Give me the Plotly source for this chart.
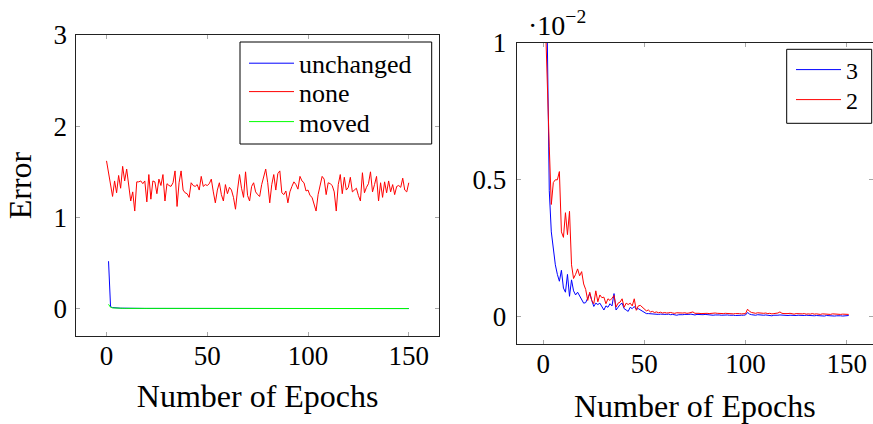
import plotly.graph_objects as go

# ---------------- data (left panel: Error vs epochs) ----------------
none_err = [
    1.62, 1.50, 1.38, 1.23, 1.40, 1.27, 1.46, 1.32, 1.56, 1.40,
    1.53, 1.37, 1.18, 1.28, 1.07, 1.39, 1.39, 1.40, 1.37, 1.40,
    1.17, 1.47, 1.20, 1.40, 1.39, 1.26, 1.42, 1.35, 1.47, 1.18,
    1.37, 1.35, 1.34, 1.38, 1.51, 1.12, 1.38, 1.51, 1.30, 1.27,
    1.26, 1.22, 1.38, 1.35, 1.34, 1.36, 1.30, 1.45, 1.34, 1.36,
    1.35, 1.37, 1.42, 1.28, 1.16, 1.30, 1.38, 1.25, 1.18, 1.36,
    1.26, 1.33, 1.30, 1.22, 1.09, 1.30, 1.47, 1.32, 1.22, 1.50,
    1.24, 1.18, 1.34, 1.38, 1.28, 1.25, 1.23, 1.36, 1.44, 1.53,
    1.38, 1.16, 1.36, 1.47, 1.30, 1.48, 1.51, 1.27, 1.25, 1.29,
    1.16, 1.28, 1.34, 1.39, 1.36, 1.31, 1.45, 1.40, 1.38, 1.29,
    1.30, 1.24, 1.22, 1.15, 1.07, 1.25, 1.36, 1.45, 1.42, 1.25,
    1.38, 1.37, 1.35, 1.28, 1.07, 1.36, 1.47, 1.26, 1.44, 1.30,
    1.33, 1.44, 1.28, 1.30, 1.32, 1.24, 1.18, 1.49, 1.27, 1.33,
    1.37, 1.50, 1.28, 1.36, 1.45, 1.18, 1.38, 1.22, 1.39, 1.27,
    1.40, 1.28, 1.36, 1.25, 1.34, 1.35, 1.33, 1.43, 1.30, 1.28,
    1.38,
]
unchanged_err = [
    0.52, 0.020, 0.012, 0.009, 0.007, 0.006, 0.005, 0.005, 0.004, 0.004,
    0.004, 0.003, 0.003, 0.003, 0.003, 0.003, 0.002, 0.002, 0.002, 0.002,
    0.002, 0.002, 0.002, 0.002, 0.002, 0.002, 0.002, 0.002, 0.002, 0.002,
    0.002, 0.002, 0.002, 0.002, 0.002, 0.002, 0.002, 0.002, 0.002, 0.002,
    0.001, 0.001, 0.001, 0.001, 0.001, 0.001, 0.001, 0.001, 0.001, 0.001,
    0.001, 0.001, 0.001, 0.001, 0.001, 0.001, 0.001, 0.001, 0.001, 0.001,
    0.001, 0.001, 0.001, 0.001, 0.001, 0.001, 0.001, 0.001, 0.001, 0.001,
    0.001, 0.001, 0.001, 0.001, 0.001, 0.001, 0.001, 0.001, 0.001, 0.001,
    0.001, 0.001, 0.001, 0.001, 0.001, 0.001, 0.001, 0.001, 0.001, 0.001,
    0.001, 0.001, 0.001, 0.001, 0.001, 0.001, 0.001, 0.001, 0.001, 0.001,
    0.001, 0.001, 0.001, 0.001, 0.001, 0.001, 0.001, 0.001, 0.001, 0.001,
    0.001, 0.001, 0.001, 0.001, 0.001, 0.001, 0.001, 0.001, 0.001, 0.001,
    0.001, 0.001, 0.001, 0.001, 0.001, 0.001, 0.001, 0.001, 0.001, 0.001,
    0.001, 0.001, 0.001, 0.001, 0.001, 0.001, 0.001, 0.001, 0.001, 0.001,
    0.001, 0.001, 0.001, 0.001, 0.001, 0.001, 0.001, 0.001, 0.001, 0.001,
]
moved_err = [
    0.047, 0.015, 0.008, 0.006, 0.005, 0.004, 0.004, 0.003, 0.003, 0.003,
    0.003, 0.002, 0.002, 0.002, 0.002, 0.002, 0.002, 0.002, 0.002, 0.002,
    0.002, 0.002, 0.002, 0.002, 0.002, 0.001, 0.001, 0.001, 0.001, 0.001,
    0.001, 0.001, 0.001, 0.001, 0.001, 0.001, 0.001, 0.001, 0.001, 0.001,
    0.001, 0.001, 0.001, 0.001, 0.001, 0.001, 0.001, 0.001, 0.001, 0.001,
    0.001, 0.001, 0.001, 0.001, 0.001, 0.001, 0.001, 0.001, 0.001, 0.001,
    0.001, 0.001, 0.001, 0.001, 0.001, 0.001, 0.001, 0.001, 0.001, 0.001,
    0.001, 0.001, 0.001, 0.001, 0.001, 0.001, 0.001, 0.001, 0.001, 0.001,
    0.001, 0.001, 0.001, 0.001, 0.001, 0.001, 0.001, 0.001, 0.001, 0.001,
    0.001, 0.001, 0.001, 0.001, 0.001, 0.001, 0.001, 0.001, 0.001, 0.001,
    0.001, 0.001, 0.001, 0.001, 0.001, 0.001, 0.001, 0.001, 0.001, 0.001,
    0.001, 0.001, 0.001, 0.001, 0.001, 0.001, 0.001, 0.001, 0.001, 0.001,
    0.001, 0.001, 0.001, 0.001, 0.001, 0.001, 0.001, 0.001, 0.001, 0.001,
    0.001, 0.001, 0.001, 0.001, 0.001, 0.001, 0.001, 0.001, 0.001, 0.001,
    0.001, 0.001, 0.001, 0.001, 0.001, 0.001, 0.001, 0.001, 0.001, 0.001,
]
epochs_none = list(range(0, len(none_err)))
epochs_unchanged = list(range(1, len(unchanged_err) + 1))
epochs_moved = list(range(1, len(moved_err) + 1))

# ---------------- data (right panel, values in units of 1e-2) ----------------
err3_e2 = [
    1.60, 0.98, 0.46, 0.31, 0.24, 0.19, 0.155, 0.13, 0.17, 0.105,
    0.09, 0.155, 0.075, 0.135, 0.095, 0.08, 0.09, 0.075, 0.06, 0.05,
    0.052, 0.07, 0.085, 0.06, 0.038, 0.05, 0.045, 0.05, 0.035, 0.025,
    0.04, 0.035, 0.048, 0.04, 0.085, 0.025, 0.035, 0.045, 0.05, 0.03,
    0.025, 0.02, 0.035, 0.03, 0.038, 0.028, 0.03, 0.025, 0.02, 0.015,
    0.012, 0.012, 0.011, 0.010, 0.011, 0.010, 0.009, 0.010, 0.009, 0.010,
    0.009, 0.010, 0.008, 0.009, 0.007, 0.006, 0.008, 0.007, 0.008, 0.009,
    0.008, 0.009, 0.010, 0.008, 0.007, 0.009, 0.008, 0.007, 0.008, 0.009,
    0.008, 0.007, 0.008, 0.006, 0.007, 0.008, 0.007, 0.006, 0.007, 0.008,
    0.007, 0.006, 0.007, 0.006, 0.005, 0.006, 0.007, 0.006, 0.006, 0.007,
    0.016, 0.010, 0.008, 0.007, 0.006, 0.008, 0.007, 0.005, 0.006, 0.007,
    0.006, 0.005, 0.004, 0.006, 0.005, 0.006, 0.007, 0.006, 0.005, 0.006,
    0.005, 0.006, 0.005, 0.004, 0.005, 0.006, 0.005, 0.004, 0.005, 0.006,
    0.005, 0.004, 0.005, 0.004, 0.005, 0.004, 0.005, 0.004, 0.003, 0.005,
    0.004, 0.005, 0.004, 0.003, 0.004, 0.005, 0.004, 0.003, 0.004, 0.004,
    0.005,
]
err2_e2 = [
    1.10, 0.82, 0.62, 0.41, 0.49, 0.50, 0.50, 0.53, 0.31, 0.29,
    0.38, 0.30, 0.385, 0.19, 0.14, 0.155, 0.175, 0.15, 0.165, 0.12,
    0.10, 0.06, 0.09, 0.06, 0.048, 0.095, 0.055, 0.08, 0.07, 0.072,
    0.048, 0.066, 0.06, 0.068, 0.078, 0.036, 0.05, 0.054, 0.066, 0.035,
    0.05, 0.045, 0.05, 0.04, 0.066, 0.024, 0.04, 0.042, 0.035, 0.03,
    0.022, 0.025, 0.018, 0.02, 0.016, 0.018, 0.015, 0.017, 0.014, 0.016,
    0.014, 0.015, 0.016, 0.014, 0.013, 0.015, 0.014, 0.013, 0.014, 0.015,
    0.013, 0.014, 0.015, 0.018, 0.013, 0.014, 0.013, 0.012, 0.013, 0.014,
    0.013, 0.012, 0.013, 0.012, 0.014, 0.013, 0.012, 0.013, 0.012, 0.013,
    0.012, 0.013, 0.012, 0.011, 0.012, 0.013, 0.012, 0.011, 0.012, 0.012,
    0.028, 0.020, 0.016, 0.014, 0.013, 0.015, 0.014, 0.012, 0.013, 0.014,
    0.012, 0.013, 0.011, 0.012, 0.013, 0.014, 0.018, 0.013, 0.012, 0.011,
    0.012, 0.013, 0.011, 0.010, 0.012, 0.011, 0.010, 0.011, 0.012, 0.010,
    0.011, 0.010, 0.012, 0.010, 0.011, 0.010, 0.009, 0.011, 0.010, 0.009,
    0.010, 0.009, 0.011, 0.010, 0.009, 0.010, 0.009, 0.010, 0.009, 0.008,
    0.009,
]
epochs_right = list(range(1, len(err3_e2) + 1))

x_ticks = [0, 50, 100, 150]
left_y_ticks = [0, 1, 2, 3]
right_y_ticks = [0, 0.5, 1]
right_y_ticktext = ["0", "0.5", "1"]

# ---------------- figure ----------------
W, H = 873, 424
FONT = "Liberation Serif"
BLUE, RED, GREEN = "#0000ff", "#ff0000", "#00ff00"

fig = go.Figure()
fig.add_trace(go.Scatter(x=epochs_unchanged, y=unchanged_err, mode="lines", name="unchanged",
                         line=dict(color=BLUE, width=1), xaxis="x", yaxis="y", legend="legend"))
fig.add_trace(go.Scatter(x=epochs_none, y=none_err, mode="lines", name="none",
                         line=dict(color=RED, width=1), xaxis="x", yaxis="y", legend="legend2"))
fig.add_trace(go.Scatter(x=epochs_moved, y=moved_err, mode="lines", name="moved",
                         line=dict(color=GREEN, width=1), xaxis="x", yaxis="y", legend="legend3"))
fig.add_trace(go.Scatter(x=epochs_right, y=err3_e2, mode="lines", name="3",
                         line=dict(color=BLUE, width=1), xaxis="x2", yaxis="y2", legend="legend4"))
fig.add_trace(go.Scatter(x=epochs_right, y=err2_e2, mode="lines", name="2",
                         line=dict(color=RED, width=1), xaxis="x2", yaxis="y2", legend="legend5"))

axis_common = dict(showgrid=False, zeroline=False, showline=True, linecolor="#222222", linewidth=1,
                   mirror="allticks", ticks="inside", ticklen=4, tickcolor="#a8a8a8", tickwidth=1,
                   automargin=False,
                   tickfont=dict(family=FONT, size=27, color="black"))

def px_x(p):
    return p / W

def px_y(p):
    return 1 - p / H

fig.update_layout(
    width=W, height=H,
    margin=dict(l=0, r=0, t=0, b=0, autoexpand=False),
    paper_bgcolor="white", plot_bgcolor="white",
    font=dict(family=FONT, color="black"),
    showlegend=True,
    xaxis=dict(axis_common, domain=[px_x(76.3), px_x(439)], range=[-15, 165], tickvals=x_ticks,
               anchor="y", ticklabelstandoff=-4,
               title=dict(text="Number of Epochs", font=dict(size=32), standoff=14)),
    yaxis=dict(axis_common, domain=[px_y(336), px_y(35)], range=[-0.3, 3], tickvals=left_y_ticks,
               anchor="x", ticklabelstandoff=3,
               title=dict(text="Error", font=dict(size=32), standoff=12)),
    xaxis2=dict(axis_common, domain=[px_x(516.7), 1.0], range=[-13.1, 163], tickvals=x_ticks,
                anchor="y2", ticklabelstandoff=-5,
                title=dict(text="Number of Epochs", font=dict(size=32), standoff=16)),
    yaxis2=dict(axis_common, domain=[px_y(344.3), px_y(42.7)], range=[-0.1, 1],
                tickvals=right_y_ticks, ticktext=right_y_ticktext, anchor="x2", ticklabelstandoff=4),
)

leg_common = dict(xanchor="left", yanchor="middle", bgcolor="rgba(0,0,0,0)", borderwidth=0,
                  itemwidth=45, itemclick=False, itemdoubleclick=False, visible=True)
fig.update_layout(
    legend=dict(leg_common, x=px_x(244), y=px_y(63.3), font=dict(family=FONT, size=26)),
    legend2=dict(leg_common, x=px_x(244), y=px_y(91.7), font=dict(family=FONT, size=26)),
    legend3=dict(leg_common, x=px_x(244), y=px_y(121.7), font=dict(family=FONT, size=26)),
    legend4=dict(leg_common, x=px_x(791), y=px_y(70), font=dict(family=FONT, size=24)),
    legend5=dict(leg_common, x=px_x(791), y=px_y(100), font=dict(family=FONT, size=24)),
)

# legend frames
fig.add_shape(type="rect", xref="paper", yref="paper", x0=px_x(240), x1=px_x(431.7),
              y0=px_y(144), y1=px_y(42), line=dict(color="black", width=1), fillcolor="white", layer="below")
fig.add_shape(type="rect", xref="paper", yref="paper", x0=px_x(786.7), x1=px_x(871.7),
              y0=px_y(123.3), y1=px_y(49.3), line=dict(color="black", width=1), fillcolor="white", layer="below")

# scale factor label of the right panel
fig.add_annotation(xref="paper", yref="paper", x=px_x(526), y=px_y(24), xanchor="left", yanchor="middle",
                   text="·10<sup>−2</sup>", showarrow=False, font=dict(family=FONT, size=28))

fig.write_html("out.html", config={"displayModeBar": False},
               post_script="document.body.style.margin='0px';")
